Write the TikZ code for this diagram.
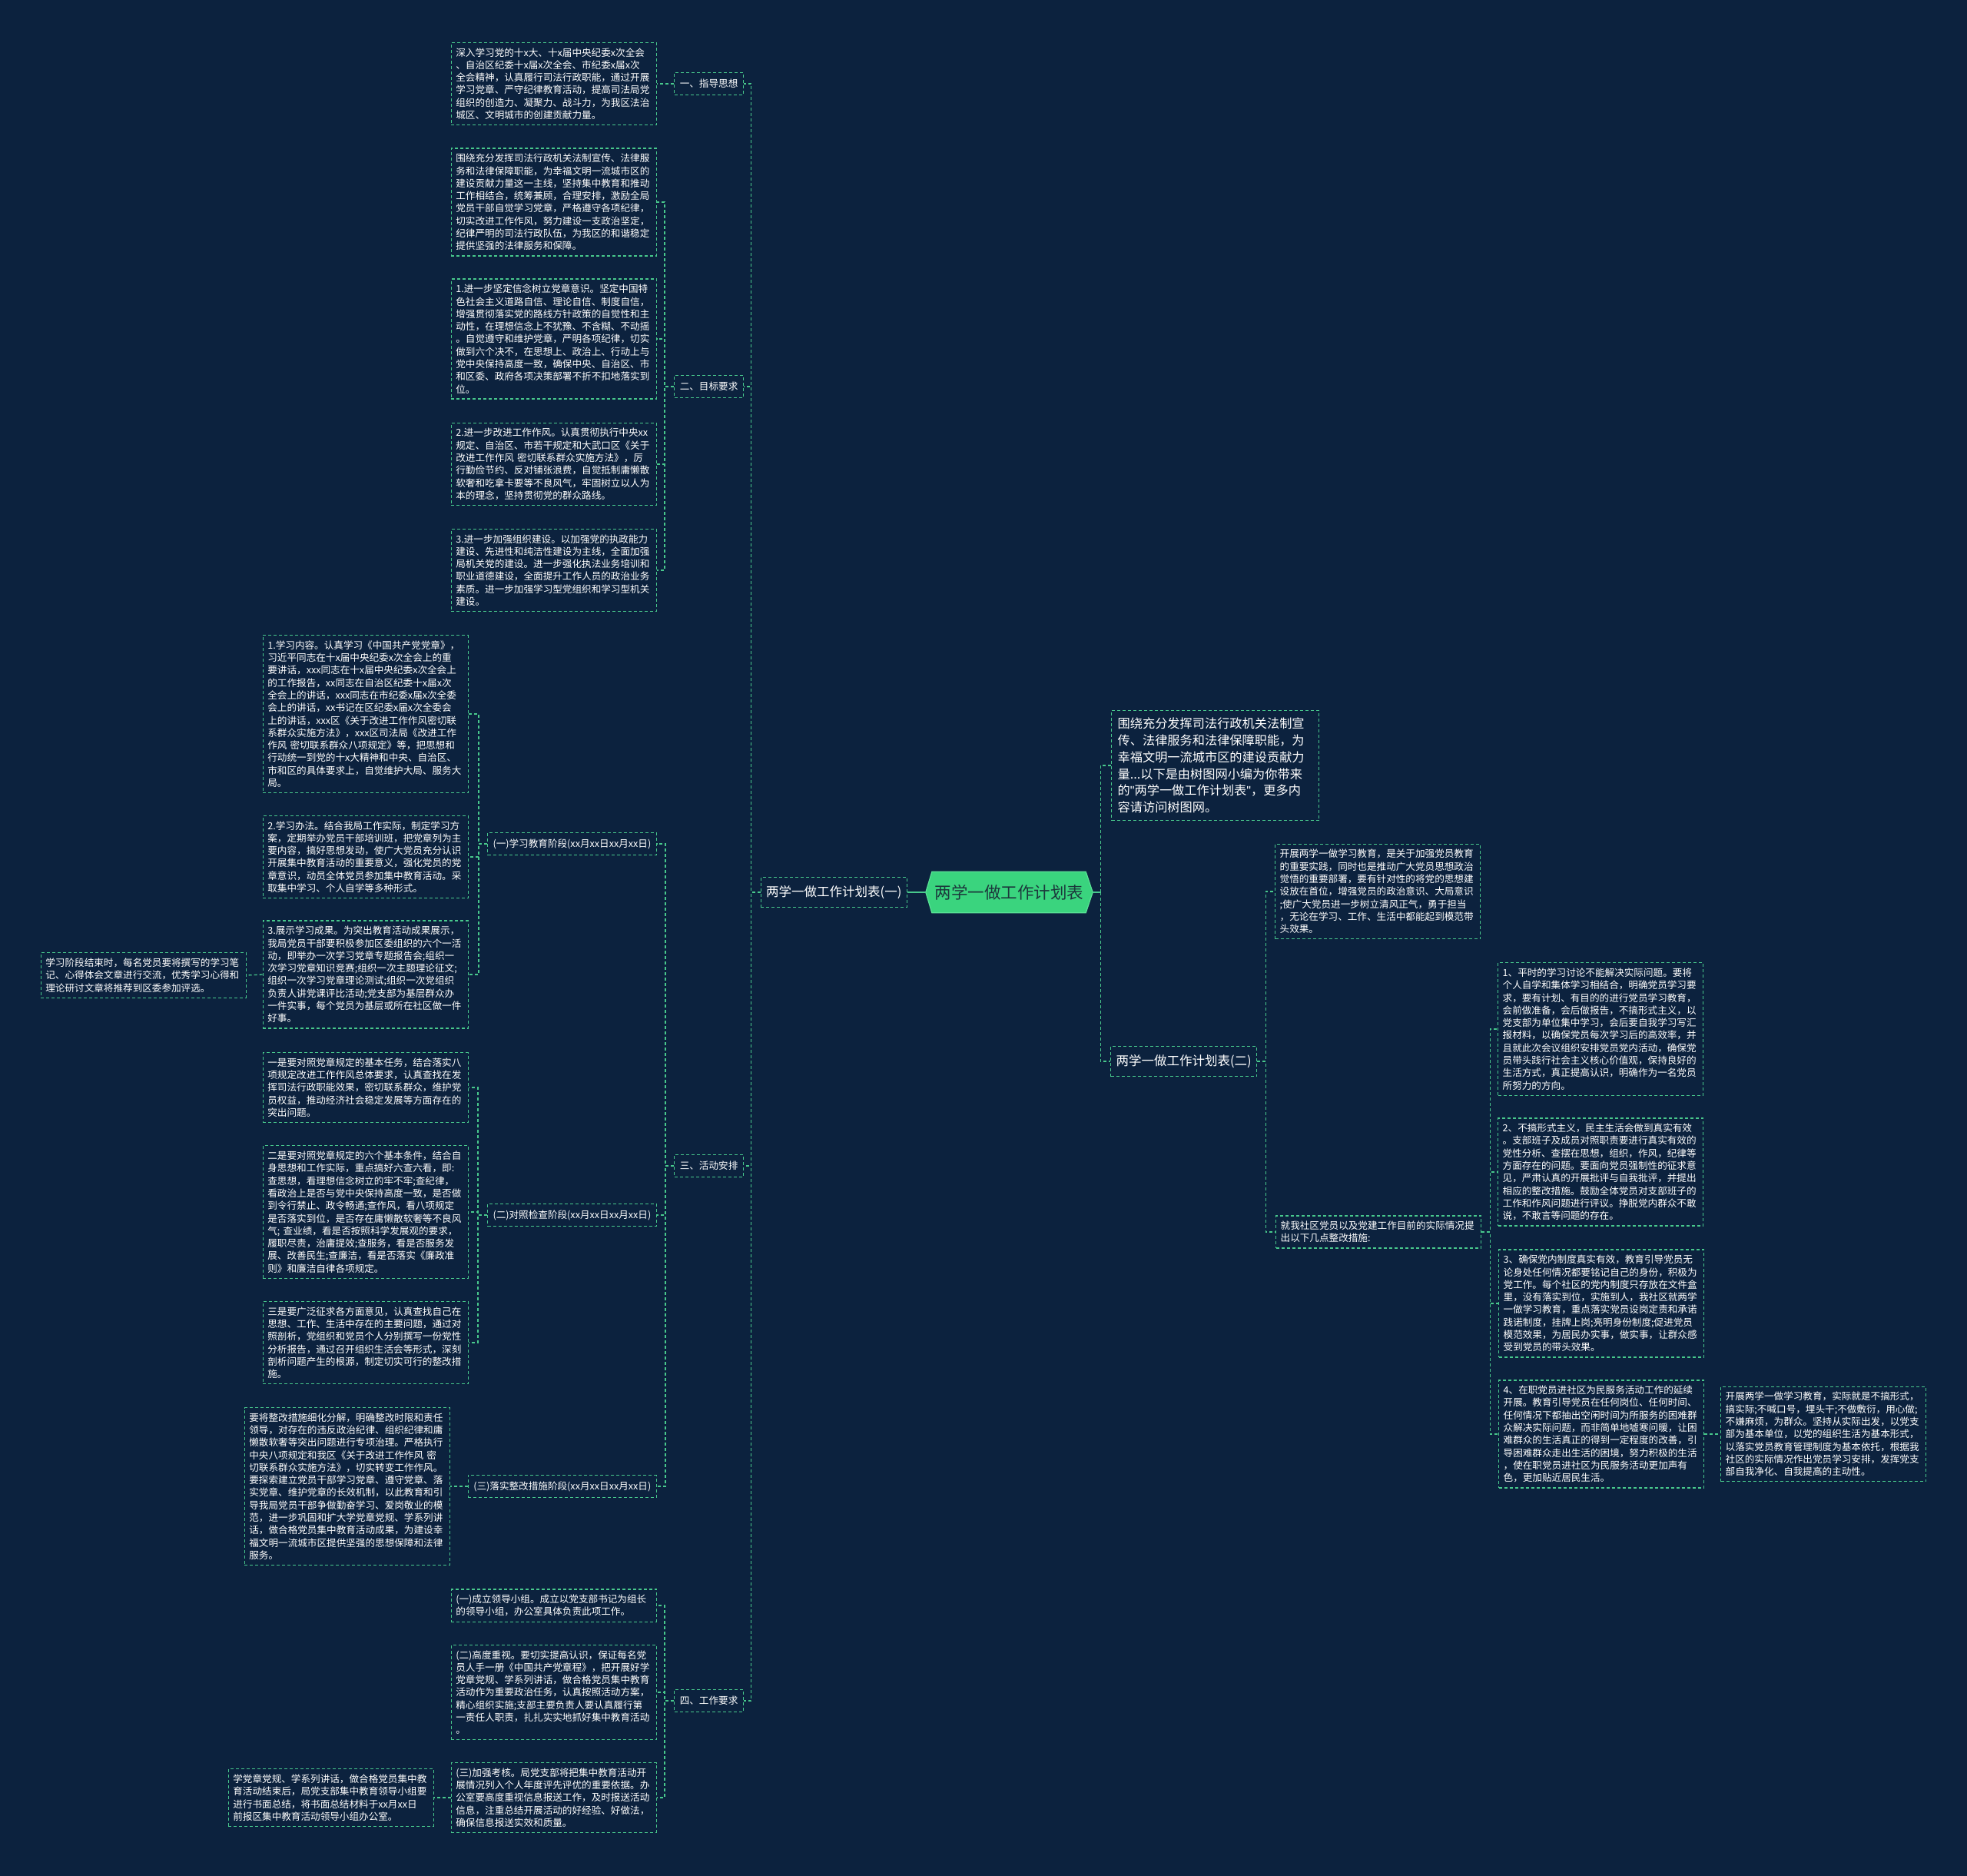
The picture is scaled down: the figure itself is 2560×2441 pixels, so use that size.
\documentclass[tikz,border=0pt]{standalone}
\usepackage{fontspec}
\setmainfont{Noto Sans CJK SC}
\newfontfamily\qtfont{Liberation Sans}
\usetikzlibrary{backgrounds,calc}
\definecolor{bg}{RGB}{12,34,62}
\definecolor{lc}{RGB}{72,200,140}
\definecolor{cfill}{RGB}{58,212,126}
\definecolor{ctext}{RGB}{28,56,60}
\newcommand\bodyfs{\fontsize{12.6}{16.3}\selectfont}
\newcommand\midfs{\fontsize{16.2}{21.7}\selectfont}
\newcommand\ttlfs{\fontsize{16.5}{20}\selectfont}
\newcommand\bigfs{\fontsize{21.5}{26}\selectfont}
\newcommand\qq{{\qtfont\symbol{34}}}
\tikzset{
  dsh/.style={dash pattern=on 4pt off 3pt, line width=1.3pt},
  tb/.style={draw=lc, dsh, fill=bg, text=white, font=\bodyfs, align=left,
    text width=255pt, inner xsep=6pt, inner ysep=7pt},
  lab/.style={draw=lc, dsh, fill=bg, text=white, font=\bodyfs,
    inner xsep=7pt, inner ysep=0pt, minimum height=29pt},
  ttl/.style={draw=lc, dsh, fill=bg, text=white, font=\ttlfs,
    inner xsep=7pt, inner ysep=0pt, minimum height=39pt},
  conn/.style={draw=lc, dsh},
  sconn/.style={draw=lc, line width=1.5pt},
}
\begin{document}
\begin{tikzpicture}[x=1pt,y=-1pt]
\useasboundingbox (0,0) rectangle (2560,2441);

% ---------- left branch ----------
\node[tb, anchor=east] (b1) at (855,109) {深入学习党的十x大、十x届中央纪委x次全会\\
、自治区纪委十x届x次全会、市纪委x届x次\\
全会精神，认真履行司法行政职能，通过开展\\
学习党章、严守纪律教育活动，提高司法局党\\
组织的创造力、凝聚力、战斗力，为我区法治\\
城区、文明城市的创建贡献力量。};
\node[lab, anchor=east] (l1) at (968,109) {一、指导思想};

\node[tb, anchor=east] (b2) at (855,263) {围绕充分发挥司法行政机关法制宣传、法律服\\
务和法律保障职能，为幸福文明一流城市区的\\
建设贡献力量这一主线，坚持集中教育和推动\\
工作相结合，统筹兼顾，合理安排，激励全局\\
党员干部自觉学习党章，严格遵守各项纪律，\\
切实改进工作作风，努力建设一支政治坚定，\\
纪律严明的司法行政队伍，为我区的和谐稳定\\
提供坚强的法律服务和保障。};
\node[tb, anchor=east] (b3) at (855,441) {1.进一步坚定信念树立党章意识。坚定中国特\\
色社会主义道路自信、理论自信、制度自信，\\
增强贯彻落实党的路线方针政策的自觉性和主\\
动性，在理想信念上不犹豫、不含糊、不动摇\\
。自觉遵守和维护党章，严明各项纪律，切实\\
做到六个决不，在思想上、政治上、行动上与\\
党中央保持高度一致，确保中央、自治区、市\\
和区委、政府各项决策部署不折不扣地落实到\\
位。};
\node[tb, anchor=east] (b4) at (855,604) {2.进一步改进工作作风。认真贯彻执行中央xx\\
规定、自治区、市若干规定和大武口区《关于\\
改进工作作风~密切联系群众实施方法》，厉\\
行勤俭节约、反对铺张浪费，自觉抵制庸懒散\\
软奢和吃拿卡要等不良风气，牢固树立以人为\\
本的理念，坚持贯彻党的群众路线。};
\node[tb, anchor=east] (b5) at (855,742) {3.进一步加强组织建设。以加强党的执政能力\\
建设、先进性和纯洁性建设为主线，全面加强\\
局机关党的建设。进一步强化执法业务培训和\\
职业道德建设，全面提升工作人员的政治业务\\
素质。进一步加强学习型党组织和学习型机关\\
建设。};
\node[lab, anchor=east] (l2) at (968,503) {二、目标要求};

\node[tb, anchor=east] (a1) at (610,929) {1.学习内容。认真学习《中国共产党党章》，\\
习近平同志在十x届中央纪委x次全会上的重\\
要讲话，xxx同志在十x届中央纪委x次全会上\\
的工作报告，xx同志在自治区纪委十x届x次\\
全会上的讲话，xxx同志在市纪委x届x次全委\\
会上的讲话，xx书记在区纪委x届x次全委会\\
上的讲话，xxx区《关于改进工作作风密切联\\
系群众实施方法》，xxx区司法局《改进工作\\
作风~密切联系群众八项规定》等，把思想和\\
行动统一到党的十x大精神和中央、自治区、\\
市和区的具体要求上，自觉维护大局、服务大\\
局。};
\node[tb, anchor=east] (a2) at (610,1115) {2.学习办法。结合我局工作实际，制定学习方\\
案，定期举办党员干部培训班，把党章列为主\\
要内容，搞好思想发动，使广大党员充分认识\\
开展集中教育活动的重要意义，强化党员的党\\
章意识，动员全体党员参加集中教育活动。采\\
取集中学习、个人自学等多种形式。};
\node[tb, anchor=east] (a3) at (610,1268) {3.展示学习成果。为突出教育活动成果展示，\\
我局党员干部要积极参加区委组织的六个一活\\
动，即举办一次学习党章专题报告会;组织一\\
次学习党章知识竞赛;组织一次主题理论征文;\\
组织一次学习党章理论测试;组织一次党组织\\
负责人讲党课评比活动;党支部为基层群众办\\
一件实事，每个党员为基层或所在社区做一件\\
好事。};
\node[tb, anchor=east] (a3L) at (321,1269) {学习阶段结束时，每名党员要将撰写的学习笔\\
记、心得体会文章进行交流，优秀学习心得和\\
理论研讨文章将推荐到区委参加评选。};
\node[lab, anchor=east] (s1) at (855,1098) {(一)学习教育阶段(xx月xx日xx月xx日)};

\node[tb, anchor=east] (c1) at (610,1415) {一是要对照党章规定的基本任务，结合落实八\\
项规定改进工作作风总体要求，认真查找在发\\
挥司法行政职能效果，密切联系群众，维护党\\
员权益，推动经济社会稳定发展等方面存在的\\
突出问题。};
\node[tb, anchor=east] (c2) at (610,1577) {二是要对照党章规定的六个基本条件，结合自\\
身思想和工作实际，重点搞好六查六看，即:\\
查思想，看理想信念树立的牢不牢;查纪律，\\
看政治上是否与党中央保持高度一致，是否做\\
到令行禁止、政令畅通;查作风，看八项规定\\
是否落实到位，是否存在庸懒散软奢等不良风\\
气;~查业绩，看是否按照科学发展观的要求，\\
履职尽责，治庸提效;查服务，看是否服务发\\
展、改善民生;查廉洁，看是否落实《廉政准\\
则》和廉洁自律各项规定。};
\node[tb, anchor=east] (c3) at (610,1747) {三是要广泛征求各方面意见，认真查找自己在\\
思想、工作、生活中存在的主要问题，通过对\\
照剖析，党组织和党员个人分别撰写一份党性\\
分析报告，通过召开组织生活会等形式，深刻\\
剖析问题产生的根源，制定切实可行的整改措\\
施。};
\node[lab, anchor=east] (s2) at (855,1581) {(二)对照检查阶段(xx月xx日xx月xx日)};

\node[tb, anchor=east] (d1) at (586,1934) {要将整改措施细化分解，明确整改时限和责任\\
领导，对存在的违反政治纪律、组织纪律和庸\\
懒散软奢等突出问题进行专项治理。严格执行\\
中央八项规定和我区《关于改进工作作风~密\\
切联系群众实施方法》，切实转变工作作风。\\
要探索建立党员干部学习党章、遵守党章、落\\
实党章、维护党章的长效机制，以此教育和引\\
导我局党员干部争做勤奋学习、爱岗敬业的模\\
范，进一步巩固和扩大学党章党规、学系列讲\\
话，做合格党员集中教育活动成果，为建设幸\\
福文明一流城市区提供坚强的思想保障和法律\\
服务。};
\node[lab, anchor=east] (s3) at (855,1934) {(三)落实整改措施阶段(xx月xx日xx月xx日)};
\node[lab, anchor=east] (l3) at (968,1517) {三、活动安排};

\node[tb, anchor=east] (w1) at (855,2089) {(一)成立领导小组。成立以党支部书记为组长\\
的领导小组，办公室具体负责此项工作。};
\node[tb, anchor=east] (w2) at (855,2202) {(二)高度重视。要切实提高认识，保证每名党\\
员人手一册《中国共产党章程》，把开展好学\\
党章党规、学系列讲话，做合格党员集中教育\\
活动作为重要政治任务，认真按照活动方案，\\
精心组织实施;支部主要负责人要认真履行第\\
一责任人职责，扎扎实实地抓好集中教育活动\\
。};
\node[tb, anchor=east] (w3) at (855,2339) {(三)加强考核。局党支部将把集中教育活动开\\
展情况列入个人年度评先评优的重要依据。办\\
公室要高度重视信息报送工作，及时报送活动\\
信息，注重总结开展活动的好经验、好做法，\\
确保信息报送实效和质量。};
\node[tb, anchor=east] (w3L) at (565,2339) {学党章党规、学系列讲话，做合格党员集中教\\
育活动结束后，局党支部集中教育领导小组要\\
进行书面总结，将书面总结材料于xx月xx日\\
前报区集中教育活动领导小组办公室。};
\node[lab, anchor=east] (l4) at (968,2213) {四、工作要求};

\node[ttl, anchor=east] (t1) at (1181,1161) {两学一做工作计划表(一)};

% ---------- center ----------
\node[text=ctext, font=\bigfs, minimum width=217pt, minimum height=53pt, inner sep=0pt] (c) at (1313.5,1161) {两学一做工作计划表};

% ---------- right branch ----------
\node[tb, font=\midfs, text width=254pt, inner xsep=8pt, inner ysep=10pt, anchor=west] (r0) at (1446,996) {围绕充分发挥司法行政机关法制宣\\
传、法律服务和法律保障职能，为\\
幸福文明一流城市区的建设贡献力\\
量...以下是由树图网小编为你带来\\
的\qq 两学一做工作计划表\qq，更多内\\
容请访问树图网。};
\node[ttl, anchor=west] (t2) at (1445,1381) {两学一做工作计划表(二)};

\node[tb, anchor=west] (k1) at (1659,1160) {开展两学一做学习教育，是关于加强党员教育\\
的重要实践，同时也是推动广大党员思想政治\\
觉悟的重要部署，要有针对性的将党的思想建\\
设放在首位，增强党员的政治意识、大局意识\\
;使广大党员进一步树立清风正气，勇于担当\\
，无论在学习、工作、生活中都能起到模范带\\
头效果。};
\node[tb, anchor=west] (k2) at (1660,1603) {就我社区党员以及党建工作目前的实际情况提\\
出以下几点整改措施:};

\node[tb, anchor=west] (m1) at (1949,1339) {1、平时的学习讨论不能解决实际问题。要将\\
个人自学和集体学习相结合，明确党员学习要\\
求，要有计划、有目的的进行党员学习教育，\\
会前做准备，会后做报告，不搞形式主义，以\\
党支部为单位集中学习，会后要自我学习写汇\\
报材料，以确保党员每次学习后的高效率，并\\
且就此次会议组织安排党员党内活动，确保党\\
员带头践行社会主义核心价值观，保持良好的\\
生活方式，真正提高认识，明确作为一名党员\\
所努力的方向。};
\node[tb, anchor=west] (m2) at (1949,1525) {2、不搞形式主义，民主生活会做到真实有效\\
。支部班子及成员对照职责要进行真实有效的\\
党性分析、查摆在思想，组织，作风，纪律等\\
方面存在的问题。要面向党员强制性的征求意\\
见，严肃认真的开展批评与自我批评，并提出\\
相应的整改措施。鼓励全体党员对支部班子的\\
工作和作风问题进行评议。挣脱党内群众不敢\\
说，不敢言等问题的存在。};
\node[tb, anchor=west] (m3) at (1950,1696) {3、确保党内制度真实有效，教育引导党员无\\
论身处任何情况都要铭记自己的身份，积极为\\
党工作。每个社区的党内制度只存放在文件盒\\
里，没有落实到位，实施到人，我社区就两学\\
一做学习教育，重点落实党员设岗定责和承诺\\
践诺制度，挂牌上岗;亮明身份制度;促进党员\\
模范效果，为居民办实事，做实事，让群众感\\
受到党员的带头效果。};
\node[tb, anchor=west] (m4) at (1950,1866) {4、在职党员进社区为民服务活动工作的延续\\
开展。教育引导党员在任何岗位、任何时间、\\
任何情况下都抽出空闲时间为所服务的困难群\\
众解决实际问题，而非简单地嘘寒问暖，让困\\
难群众的生活真正的得到一定程度的改善，引\\
导困难群众走出生活的困境，努力积极的生活\\
，使在职党员进社区为民服务活动更加声有\\
色，更加贴近居民生活。};
\node[tb, anchor=west] (m4R) at (2239,1866) {开展两学一做学习教育，实际就是不搞形式，\\
搞实际;不喊口号，埋头干;不做敷衍，用心做;\\
不嫌麻烦，为群众。坚持从实际出发，以党支\\
部为基本单位，以党的组织生活为基本形式，\\
以落实党员教育管理制度为基本依托，根据我\\
社区的实际情况作出党员学习安排，发挥党支\\
部自我净化、自我提高的主动性。};

% ---------- connectors ----------
\draw[conn] (l1.west) -- (b1.east);
\foreach \n in {b2,b3,b4,b5} \draw[conn] (l2.west) -- ++(-12,0) |- (\n.east);
\foreach \n in {a1,a2,a3} \draw[conn] (s1.west) -- ++(-11,0) |- (\n.east);
\draw[conn] (a3.west) -- (a3L.east);
\foreach \n in {c1,c2,c3} \draw[conn] (s2.west) -- ++(-12,0) |- (\n.east);
\draw[conn] (s3.west) -- (d1.east);
\foreach \n in {s1,s2,s3} \draw[conn] (l3.west) -- ++(-11,0) |- (\n.east);
\foreach \n in {w1,w2,w3} \draw[conn] (l4.west) -- ++(-12,0) |- (\n.east);
\draw[conn] (w3.west) -- (w3L.east);
\foreach \n in {l1,l2,l3,l4} \draw[conn] (t1.west) -- ++(-12,0) |- (\n.east);
\draw[sconn] (c.west) -- (t1.east);
\draw[sconn] (c.east) -- ++(10,0);
\foreach \n in {r0,t2} \draw[conn] (c.east) ++(10,0) |- (\n.west);
\foreach \n in {k1,k2} \draw[conn] (t2.east) -- ++(11,0) |- (\n.west);
\foreach \n in {m1,m2,m3,m4} \draw[conn] (k2.east) -- ++(11,0) |- (\n.west);
\draw[conn] (m4.east) -- (m4R.west);

% ---------- background and center shape ----------
\begin{scope}[on background layer]
\fill[bg] (0,0) rectangle (2560,2441);
\filldraw[fill=cfill, draw={rgb,255:red,90;green,225;blue,150}, line width=1.2pt]
  (c.west) -- ($(c.north west)+(8,0)$) -- ($(c.north east)+(-9,0)$) -- (c.east)
  -- ($(c.south east)+(-9,0)$) -- ($(c.south west)+(8,0)$) -- cycle;
\end{scope}
\end{tikzpicture}
\end{document}
